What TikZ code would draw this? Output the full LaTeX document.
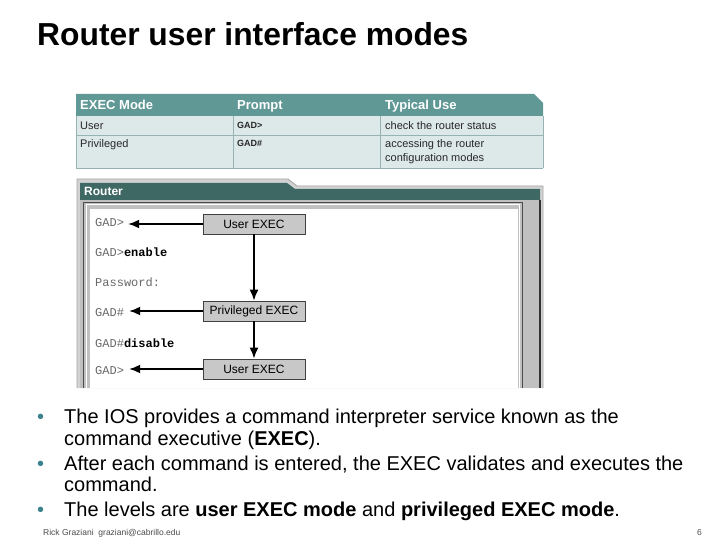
\documentclass[tikz,border=0pt]{standalone}
\usepackage{fontspec}
\setmainfont{Liberation Sans}
\setmonofont{Liberation Mono}
\usetikzlibrary{arrows.meta,calc}
\definecolor{headteal}{RGB}{96,152,150}
\definecolor{rowbg}{RGB}{221,232,232}
\definecolor{tline}{RGB}{150,178,178}
\definecolor{bandteal}{RGB}{62,104,100}
\definecolor{framegrey}{RGB}{192,192,192}
\definecolor{outergrey}{RGB}{210,210,210}
\definecolor{boxgrey}{RGB}{200,200,200}
\definecolor{monogrey}{RGB}{105,105,105}
\definecolor{bulcol}{RGB}{60,130,140}
\definecolor{celltext}{RGB}{40,40,40}
\begin{document}
\begin{tikzpicture}[x=1pt,y=-1pt,
  hdr/.style={anchor=base west,inner sep=0,text=white,font=\bfseries\fontsize{13}{15}\selectfont},
  cell/.style={anchor=base west,inner sep=0,text=celltext,font=\fontsize{11}{13}\selectfont},
  prm/.style={anchor=base west,inner sep=0,text=celltext,font=\bfseries\fontsize{9}{11}\selectfont},
  mono/.style={anchor=base west,inner sep=0,text=monogrey,font=\ttfamily\fontsize{12}{14}\selectfont},
  modebox/.style={draw=black!75,line width=0.8,fill=boxgrey,minimum width=102,minimum height=20,inner sep=0,font=\fontsize{12}{14}\selectfont},
  arr/.style={line width=1.7,-{Latex[length=11pt,width=9pt]}},
  line/.style={anchor=base west,inner sep=0,font=\fontsize{20}{24}\selectfont},
  bul/.style={anchor=base west,inner sep=0,text=bulcol,font=\fontsize{20}{24}\selectfont}]
\useasboundingbox (0,0) rectangle (720,540);
\fill[white] (0,0) rectangle (720,540);
% title
\node[anchor=base west,inner sep=0,font=\bfseries\fontsize{31.8}{36}\selectfont] (title) at (37,46) {Router user interface modes};
% table
\fill[rowbg] (76,116) rectangle (543,168);
\fill[headteal] (76,94) -- (534,94) -- (543,103) -- (543,116) -- (76,116) -- cycle;
\draw[tline,line width=0.8] (76,135) -- (543,135);
\draw[tline,line width=0.8] (76,168) -- (543,168);
\draw[tline,line width=0.8] (76,116) -- (76,168);
\draw[tline,line width=0.8] (543,116) -- (543,168);
\draw[tline,line width=0.8] (233,116) -- (233,168);
\draw[tline,line width=0.8] (380,116) -- (380,168);
\node[hdr] (h1) at (80,110) {EXEC Mode};
\node[hdr] (h2) at (237,110) {Prompt};
\node[hdr] (h3) at (385,110) {Typical Use};
\node[cell] (c11) at (80,130) {User};
\node[prm] (c12) at (237,129) {GAD>};
\node[cell] (c13) at (385,130) {check the router status};
\node[cell] (c21) at (80,148) {Privileged};
\node[prm] (c22) at (237,147) {GAD\#};
\node[cell] (c23) at (385,148) {accessing the router};
\node[cell] (c24) at (385,162) {configuration modes};
% router window
\fill[outergrey] (77,179) -- (288,179) -- (297,186) -- (543,186) -- (543,388) -- (77,388) -- cycle;
\draw[black!35,line width=0.8] (77,388) -- (77,179) -- (288,179) -- (297,186) -- (543,186) -- (543,388);
\fill[bandteal] (80,183) -- (287,183) -- (295,189) -- (540,189) -- (540,200) -- (80,200) -- cycle;
\fill[framegrey] (80,200) rectangle (540,388);
\draw[black!70,line width=0.8] (83,388) -- (83,202) -- (522,202) -- (522,388);
\draw[white,line width=1] (86,388) -- (86,205) -- (519,205) -- (519,388);
\fill[white] (90,209) rectangle (518,388);
\draw[black!80,line width=1.2] (540,200) -- (540,388);
\node[anchor=base west,inner sep=0,text=white,font=\bfseries\fontsize{12}{14}\selectfont] (rt) at (84,196) {Router};
% console text
\node[mono] (g1) at (95,226) {GAD>};
\node[mono] (g2) at (95,256) {GAD>\textcolor{black}{\textbf{enable}}};
\node[mono] (g3) at (95,286) {Password:};
\node[mono] (g4) at (95,316) {GAD\#};
\node[mono] (g5) at (95,347) {GAD\#\textcolor{black}{\textbf{disable}}};
\node[mono] (g6) at (95,374) {GAD>};
% mode boxes
\node[modebox] (ue1) at (254,224) {User EXEC};
\node[modebox] (pe) at (254,311) {Privileged EXEC};
\node[modebox] (ue2) at (254,369) {User EXEC};
\draw[arr] (ue1.west) -- ($(g1.east |- ue1.west)+(4,0)$);
\draw[arr] (pe.west) -- ($(g4.east |- pe.west)+(5,0)$);
\draw[arr] (ue2.west) -- ($(g6.east |- ue2.west)+(5,0)$);
\draw[arr] (ue1.south) -- (pe.north);
\draw[arr] (pe.south) -- (ue2.north);
% bullets
\node[bul] (d1) at (37,423) {•};
\node[bul] (d2) at (37,470) {•};
\node[bul] (d3) at (37,516) {•};
\node[line] (l1) at (64,423) {The IOS provides a command interpreter service known as the};
\node[line] (l2) at (64,445) {command executive (\textbf{EXEC}).};
\node[line] (l3) at (64,470) {After each command is entered, the EXEC validates and executes the};
\node[line] (l4) at (64,491) {command.};
\node[line] (l5) at (64,516) {The levels are \textbf{user EXEC mode} and \textbf{privileged EXEC mode}.};
% footer
\node[anchor=base west,inner sep=0,text=black!70,font=\fontsize{8.5}{10}\selectfont] (ft) at (43,535) {Rick Graziani\ \ graziani@cabrillo.edu};
\node[anchor=base west,inner sep=0,text=black!70,font=\fontsize{8.5}{10}\selectfont] (pg) at (697,535) {6};
\end{tikzpicture}
\end{document}
